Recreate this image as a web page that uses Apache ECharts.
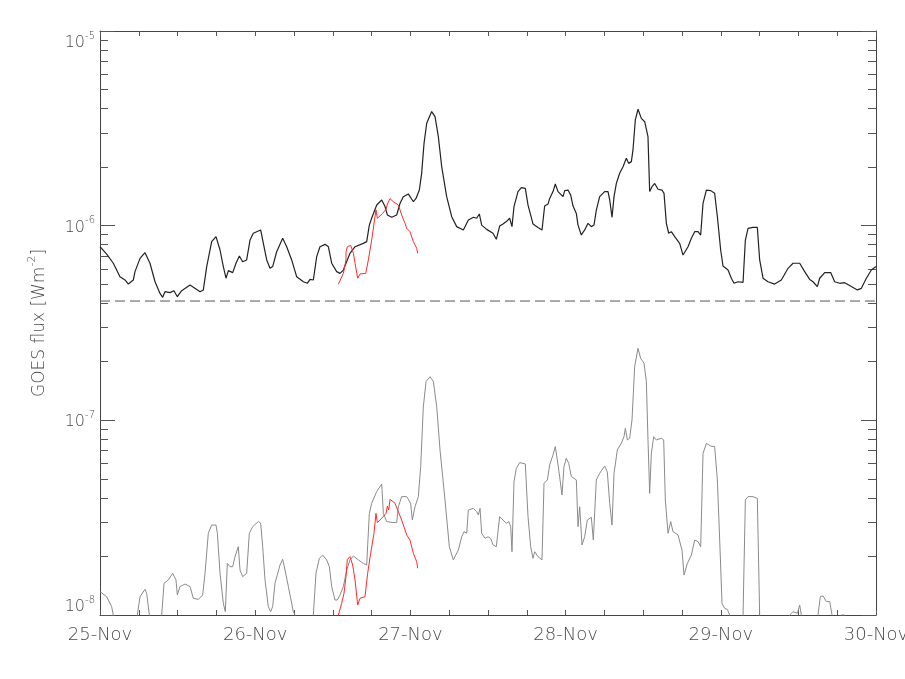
<!DOCTYPE html>
<html>
<head>
<meta charset="utf-8">
<script src="https://cdn.jsdelivr.net/npm/echarts@6/dist/echarts.min.js"></script>
<style>html,body{margin:0;padding:0;background:#fff}#c{width:905px;height:679px}</style>
</head>
<body>
<div id="c"></div>
<script>
// x: hours since 25-Nov 00:00 ; y: log10 of GOES flux [W m^-2]
const dayLabels = ['25-Nov', '26-Nov', '27-Nov', '28-Nov', '29-Nov', '30-Nov'];
const yMajorTicks = [1e-8, 1e-7, 1e-6, 1e-5];
const yMinorTicks = [2e-8,3e-8,4e-8,5e-8,6e-8,7e-8,8e-8,9e-8,2e-7,3e-7,4e-7,5e-7,6e-7,7e-7,8e-7,9e-7,2e-6,3e-6,4e-6,5e-6,6e-6,7e-6,8e-6,9e-6];
const backgroundLevel = 4.1e-7;
const backgroundHours = [0, 120];

// GOES 1-8 A (black)
const longHours = [0,1.03,2.06,3.09,3.87,4.38,5.16,5.41,6.19,6.96,7.73,8.51,9.28,9.69,10.05,10.83,11.44,11.96,12.63,13.92,15.47,15.98,16.5,17.27,17.94,18.56,19.07,19.49,19.85,20.52,21.03,21.55,22.06,22.68,23.2,23.71,24.85,25.26,25.78,26.29,26.7,27.32,28.25,28.87,29.64,30.41,31.45,32.06,32.48,32.99,33.51,34.02,34.8,35.31,35.83,36.6,37.12,37.63,38.66,39.44,40.72,41.24,41.65,42.01,42.79,43.56,44.08,44.44,45.11,45.88,46.4,46.91,47.68,48.46,48.87,49.38,49.74,50.11,50.52,51.29,51.81,52.32,52.84,53.61,54.39,55.16,56.19,56.45,56.96,57.74,58.25,58.66,59.02,59.8,
60.0,60.77,61.29,61.8,62.32,62.84,63.35,63.71,64.02,64.64,65.16,65.77,66.19,66.96,67.73,68.35,68.76,69.28,69.54,70.05,70.41,70.83,71.6,71.86,72.37,72.78,73.15,73.66,73.92,74.43,74.95,75.47,75.98,76.39,76.75,77.27,78.04,78.56,78.82,79.18,79.49,79.85,80.36,80.88,81.39,81.75,82.17,82.42,82.78,83.2,83.71,84.23,84.74,85.0,85.36,85.78,86.29,86.91,87.22,87.58,87.94,88.35,88.87,89.64,90.16,90.41,90.93,91.45,91.96,92.48,92.89,93.25,93.77,94.44,95.05,95.47,95.98,96.34,97.12,97.63,98.04,98.66,99.44,99.8,100.21,100.98,101.65,102.01,102.53,103.3,104.33,105.36,106.4,107.17,108.2,108.97,109.75,110.26,110.93,111.29,112.07,112.99,113.61,114.39,115.16,116.19,117.12,117.74,118.51,119.28,120];
const longLogFlux = [-6.108,-6.146,-6.193,-6.262,-6.279,-6.300,-6.279,-6.236,-6.168,-6.139,-6.193,-6.288,-6.348,-6.368,-6.339,-6.344,-6.334,-6.365,-6.334,-6.305,-6.339,-6.330,-6.210,-6.082,-6.056,-6.125,-6.210,-6.270,-6.231,-6.241,-6.193,-6.156,-6.185,-6.176,-6.074,-6.039,-6.022,-6.091,-6.176,-6.219,-6.210,-6.134,-6.065,-6.108,-6.176,-6.262,-6.288,-6.296,-6.276,-6.279,-6.159,-6.108,-6.096,-6.108,-6.193,-6.236,-6.245,-6.228,-6.142,-6.108,-6.091,-6.082,-5.997,-5.962,-5.894,-5.868,-5.902,-5.945,-5.957,-5.945,-5.885,-5.851,-5.837,-5.877,-5.860,-5.817,-5.731,-5.577,-5.474,-5.414,-5.440,-5.543,-5.697,-5.851,-5.954,-6.005,-6.022,-6.031,-5.971,-5.957,-5.962,-5.940,-5.997,-6.019,
-6.019,-6.039,-6.070,-6.002,-5.991,-5.979,-5.962,-6.005,-5.902,-5.825,-5.805,-5.808,-5.894,-5.991,-6.009,-6.022,-5.899,-5.889,-5.860,-5.825,-5.786,-5.825,-5.851,-5.820,-5.817,-5.842,-5.899,-5.937,-5.997,-6.048,-6.022,-5.988,-6.005,-5.997,-5.920,-5.851,-5.825,-5.825,-5.868,-5.957,-5.851,-5.783,-5.731,-5.697,-5.654,-5.680,-5.671,-5.611,-5.457,-5.402,-5.449,-5.466,-5.543,-5.825,-5.800,-5.783,-5.813,-5.817,-5.834,-5.988,-6.039,-6.031,-6.056,-6.091,-6.151,-6.159,-6.108,-6.065,-6.031,-6.031,-6.048,-5.885,-5.817,-5.820,-5.834,-5.954,-6.125,-6.207,-6.228,-6.270,-6.296,-6.288,-6.291,-6.074,-6.014,-6.009,-6.009,-6.176,-6.270,-6.288,-6.300,-6.279,-6.219,-6.193,-6.193,-6.236,-6.276,-6.288,-6.313,-6.270,-6.241,-6.241,-6.288,-6.296,-6.293,-6.313,-6.330,-6.322,-6.270,-6.228,-6.210];

// GOES 0.5-4 A (grey)
const shortHours = [0,1.03,1.8,2.06,3.09,5.16,5.77,6.19,6.96,7.22,7.63,8.25,9.02,9.54,9.9,10.57,11.24,11.75,11.96,12.37,13.15,13.92,14.43,15.21,15.88,16.24,16.75,17.27,17.94,18.15,18.56,19.07,19.38,19.69,20.1,20.52,20.88,21.39,21.65,22.06,22.68,23.09,23.61,24.49,24.85,25.16,25.52,26.03,26.39,26.7,27.06,27.84,28.25,28.61,29.13,29.9,30.16,30.93,32.22,32.99,33.4,33.92,34.44,35.05,35.47,35.83,36.34,36.7,37.12,37.63,38.15,38.66,39.18,39.95,40.72,41.24,41.65,42.01,42.79,43.56,43.82,44.33,45.26,45.88,46.14,46.65,47.43,48.04,48.3,48.71,49.23,49.59,50.0,50.42,51.03,51.55,52.07,52.58,53.35,54.02,54.64,55.42,55.93,56.29,56.71,56.96,57.74,58.25,58.51,58.77,59.02,59.54,
60.0,60.41,60.77,61.29,61.8,62.32,62.84,63.2,63.51,63.71,64.02,64.38,64.9,65.77,66.19,66.6,66.96,67.22,67.73,68.35,68.66,69.18,69.54,70.05,70.41,70.72,71.08,71.44,71.75,72.11,72.48,72.89,73.66,73.92,74.18,74.54,74.95,75.36,75.98,76.29,76.75,77.27,78.04,78.45,78.82,79.18,79.49,80.0,80.62,81.03,81.24,81.55,81.91,82.27,82.68,83.2,83.61,84.13,84.49,84.74,85.0,85.26,85.62,86.03,86.81,87.17,87.42,87.84,88.25,88.61,89.38,90.0,90.31,90.83,91.45,91.96,92.48,92.89,93.25,93.77,94.44,95.05,95.47,95.83,96.19,96.6,97.01,97.37,98.4,99.44,99.8,100.21,100.98,101.65,102.01,103.3,105.36,106.65,107.17,107.84,108.2,108.46,109.75,111.03,111.39,111.81,112.32,112.84,113.1,113.2,113.87,114.64,114.9,115.16,116.7,120];
const shortLogFlux = [-7.880,-7.906,-7.957,-8.000,-8.3,-8.3,-8.000,-7.906,-7.868,-7.889,-8.000,-8.3,-8.3,-8.000,-7.837,-7.820,-7.786,-7.820,-7.897,-7.854,-7.841,-7.854,-7.914,-7.920,-7.897,-7.786,-7.580,-7.538,-7.538,-7.580,-7.786,-7.940,-7.983,-7.735,-7.752,-7.752,-7.700,-7.649,-7.769,-7.803,-7.786,-7.580,-7.546,-7.520,-7.529,-7.649,-7.820,-7.957,-7.983,-7.957,-7.837,-7.743,-7.714,-7.769,-7.854,-7.983,-8.000,-8.3,-8.3,-8.000,-7.786,-7.709,-7.692,-7.717,-7.752,-7.854,-7.923,-7.923,-7.897,-7.854,-7.769,-7.717,-7.697,-7.717,-7.735,-7.743,-7.478,-7.426,-7.366,-7.327,-7.478,-7.520,-7.525,-7.525,-7.444,-7.392,-7.392,-7.426,-7.512,-7.444,-7.392,-7.238,-6.930,-6.801,-6.776,-6.801,-6.930,-7.152,-7.409,-7.649,-7.717,-7.666,-7.598,-7.572,-7.580,-7.461,-7.452,-7.469,-7.486,-7.452,-7.580,-7.606,
-7.598,-7.606,-7.640,-7.649,-7.495,-7.512,-7.529,-7.520,-7.546,-7.675,-7.315,-7.247,-7.217,-7.224,-7.495,-7.649,-7.709,-7.675,-7.700,-7.717,-7.324,-7.306,-7.229,-7.178,-7.135,-7.204,-7.289,-7.384,-7.238,-7.195,-7.221,-7.289,-7.306,-7.546,-7.444,-7.640,-7.598,-7.512,-7.498,-7.615,-7.306,-7.272,-7.235,-7.264,-7.426,-7.538,-7.272,-7.152,-7.118,-7.084,-7.041,-7.101,-7.092,-6.998,-6.724,-6.630,-6.682,-6.707,-6.801,-7.101,-7.375,-7.170,-7.084,-7.101,-7.092,-7.101,-7.409,-7.580,-7.520,-7.572,-7.589,-7.666,-7.795,-7.735,-7.692,-7.615,-7.623,-7.649,-7.170,-7.118,-7.132,-7.135,-7.306,-7.615,-7.940,-7.966,-7.971,-8.000,-8.3,-8.000,-7.409,-7.392,-7.392,-7.401,-8.000,-8.3,-8.3,-8.000,-7.983,-7.991,-7.949,-8.000,-8.3,-8.000,-7.906,-7.902,-7.931,-7.931,-7.940,-8.000,-8.3,-8.000,-7.995,-8.000,-8.3,-8.3];

// red overlays
const redLongHours = [36.86,37.63,38.04,38.05,38.25,38.77,39.18,39.44,39.85,40.21,41.09,41.5,42.01,42.68,42.89,43.71,44.23,44.44,44.64,44.85,45.36,46.14,46.29,46.65,47.17,47.43,47.68,47.94,48.46,48.97,49.13];
const redLongLogFlux = [-6.301,-6.245,-6.176,-6.134,-6.108,-6.101,-6.142,-6.193,-6.270,-6.248,-6.245,-6.176,-6.074,-5.919,-5.962,-5.937,-5.916,-5.889,-5.899,-5.861,-5.877,-5.894,-5.908,-5.945,-5.988,-6.014,-6.005,-6.031,-6.082,-6.116,-6.142];
const redShortHours = [36.86,37.37,37.73,38.04,38.15,38.25,38.66,39.07,39.44,39.85,40.21,40.98,41.39,41.86,42.37,42.68,42.89,43.56,44.23,44.44,44.64,44.85,45.62,46.03,46.29,46.65,47.17,47.43,47.68,47.94,48.46,48.97,49.13];
const redShortLogFlux = [-8.000,-7.940,-7.889,-7.803,-7.752,-7.714,-7.700,-7.743,-7.820,-7.949,-7.914,-7.906,-7.786,-7.683,-7.580,-7.478,-7.526,-7.503,-7.478,-7.440,-7.461,-7.406,-7.426,-7.461,-7.461,-7.512,-7.563,-7.589,-7.580,-7.615,-7.683,-7.726,-7.760];

function pairs(h, l) { return h.map((v, i) => [v, Math.pow(10, l[i])]); }

const FONT = 'DejaVu Sans';
const TXT = '#4a4a4a';
const AX = '#444';

const yLabel = {
  show: true, margin: 5, fontFamily: FONT,
  verticalAlignMinLabel: 'bottom', verticalAlignMaxLabel: 'top',
  formatter: v => '{b|10}{s|-' + Math.round(-Math.log10(v)) + '}',
  rich: {
    b: { fontSize: 16, color: TXT, fontFamily: FONT, fontWeight: 200, lineHeight: 20, verticalAlign: 'bottom' },
    s: { fontSize: 10, color: TXT, fontFamily: FONT, fontWeight: 200, lineHeight: 20, verticalAlign: 'top' }
  }
};

function logAxis(pos, major, labels) {
  return {
    type: 'log', logBase: 10, min: 1e-8, max: 1e-5, position: pos,
    gridIndex: 0,
    axisLine: { show: major, lineStyle: { color: AX, width: 1 } },
    axisTick: major
      ? { show: true, inside: true, length: 15, customValues: yMajorTicks, lineStyle: { color: '#555' } }
      : { show: true, inside: true, length: 8, customValues: yMinorTicks, lineStyle: { color: '#555' } },
    minorTick: { show: false },
    splitLine: { show: false },
    axisLabel: labels ? yLabel : { show: false },
    name: labels ? '{n|GOES flux [Wm}{s|-2}{n|]}' : '',
    nameLocation: 'middle', nameGap: 52, nameRotate: 90,
    nameTextStyle: {
      rich: {
        n: { fontSize: 17, color: TXT, fontFamily: FONT, fontWeight: 200, lineHeight: 21, verticalAlign: 'bottom' },
        s: { fontSize: 11, color: TXT, fontFamily: FONT, fontWeight: 200, lineHeight: 21, verticalAlign: 'top' }
      }
    }
  };
}

function timeAxis(pos, labels) {
  return {
    type: 'value', min: 0, max: 120, interval: 24, position: pos,
    axisLine: { show: true, onZero: false, lineStyle: { color: AX, width: 1 } },
    axisTick: { show: true, inside: true, length: 5, lineStyle: { color: '#555' } },
    minorTick: { show: true, splitNumber: 4, length: 5, lineStyle: { color: '#555' } },
    splitLine: { show: false },
    minorSplitLine: { show: false },
    axisLabel: labels ? {
      show: true, margin: 11, fontSize: 18, color: TXT, fontFamily: FONT, fontWeight: 200,
      formatter: v => dayLabels[Math.round(v / 24)]
    } : { show: false }
  };
}

const chart = echarts.init(document.getElementById('c'), null, { renderer: 'canvas' });
chart.setOption({
  animation: false,
  backgroundColor: '#fff',
  grid: { left: 100, top: 31, width: 776, height: 584, containLabel: false, outerBoundsMode: 'none' },
  xAxis: [timeAxis('bottom', true), timeAxis('top', false)],
  yAxis: [logAxis('left', true, true), logAxis('left', false, false), logAxis('right', true, false), logAxis('right', false, false)],
  series: [
    {
      type: 'line', name: 'short', data: pairs(shortHours, shortLogFlux), xAxisIndex: 0, yAxisIndex: 0,
      showSymbol: false, clip: true, lineStyle: { color: '#8a8a8a', width: 1 }
    },
    {
      type: 'line', name: 'background', data: backgroundHours.map(h => [h, backgroundLevel]), xAxisIndex: 0, yAxisIndex: 0,
      showSymbol: false, clip: true, lineStyle: { color: '#555', width: 1, type: [10, 5] }
    },
    {
      type: 'line', name: 'long', data: pairs(longHours, longLogFlux), xAxisIndex: 0, yAxisIndex: 0,
      showSymbol: false, clip: true, lineStyle: { color: '#222', width: 1.2 }
    },
    {
      type: 'line', name: 'redShort', data: pairs(redShortHours, redShortLogFlux), xAxisIndex: 0, yAxisIndex: 0,
      showSymbol: false, clip: true, lineStyle: { color: '#ff2a2a', width: 1 }
    },
    {
      type: 'line', name: 'redLong', data: pairs(redLongHours, redLongLogFlux), xAxisIndex: 0, yAxisIndex: 0,
      showSymbol: false, clip: true, lineStyle: { color: '#ff2a2a', width: 1 }
    }
  ]
});
</script>
</body>
</html>
